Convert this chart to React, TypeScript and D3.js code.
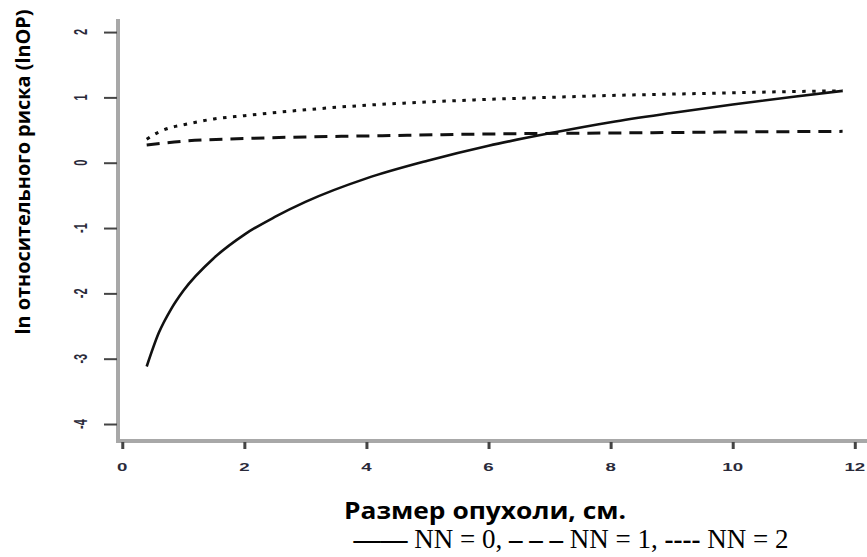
import { useEffect, useRef } from 'react'
import * as d3 from 'd3'

// tumour size, cm
const sizeNN0 = [0.4, 0.6, 0.8, 1, 1.5, 2, 2.5, 3, 4, 5, 6, 7, 8, 9, 10, 11, 11.8]
const lnRiskNN0 = [-3.12, -2.6, -2.24, -1.96, -1.46, -1.1, -0.83, -0.6, -0.24, 0.03, 0.26, 0.45, 0.62, 0.76, 0.89, 1.01, 1.1]

const sizeNN1 = [0.4, 1, 2, 3, 4, 6, 8, 10, 11.8]
const lnRiskNN1 = [0.27, 0.33, 0.37, 0.395, 0.41, 0.44, 0.455, 0.47, 0.48]

const sizeNN2 = [0.4, 0.6, 0.8, 1, 1.5, 2, 3, 4, 5, 6, 7, 8, 9, 10, 11, 11.8]
const lnRiskNN2 = [0.36, 0.47, 0.54, 0.58, 0.67, 0.72, 0.81, 0.88, 0.93, 0.97, 1.0, 1.03, 1.05, 1.07, 1.09, 1.1]

const xTicks = [0, 2, 4, 6, 8, 10, 12]
const yTicks = [-4, -3, -2, -1, 0, 1, 2]

const yTitle = 'ln относительного риска (lnOP)'
const xTitle = 'Размер опухоли, см.'

export default function App() {
  const ref = useRef<SVGSVGElement>(null)

  useEffect(() => {
    if (!ref.current) return
    const width = 867
    const height = 557

    const svg = d3.select(ref.current)
    svg.selectAll('*').remove()

    const x = d3.scaleLinear().domain([-0.07, 12.2]).range([118, 867])
    const y = d3.scaleLinear().domain([-4.26, 2.2]).range([441, 19])

    // axis lines
    svg
      .append('line')
      .attr('x1', x(-0.07))
      .attr('x2', x(-0.07))
      .attr('y1', y(2.2))
      .attr('y2', y(-4.26))
      .attr('stroke', '#a8a8a8')
      .attr('stroke-width', 4)
    svg
      .append('line')
      .attr('x1', x(-0.07) - 2)
      .attr('x2', width)
      .attr('y1', y(-4.26))
      .attr('y2', y(-4.26))
      .attr('stroke', '#a8a8a8')
      .attr('stroke-width', 4)

    // y ticks
    const yAxis = svg
      .append('g')
      .attr('transform', `translate(${x(-0.07) - 1},0)`)
      .call(d3.axisLeft(y).tickValues(yTicks).tickSize(13).tickFormat(() => ''))
    yAxis.select('.domain').remove()
    yAxis.selectAll('line').attr('stroke', '#444').attr('stroke-width', 2)

    svg
      .append('g')
      .selectAll('text')
      .data(yTicks)
      .join('text')
      .attr('transform', (d) => `translate(81,${y(d)}) scale(1.6,1) rotate(-90)`)
      .attr('text-anchor', 'middle')
      .attr('dy', '0.35em')
      .attr('font-family', 'Liberation Sans, Arial, sans-serif')
      .attr('font-weight', 'bold')
      .attr('font-size', 11)
      .attr('fill', '#2a2a3a')
      .text((d) => d)

    // x ticks
    const xAxis = svg
      .append('g')
      .attr('transform', `translate(0,${y(-4.26) + 1})`)
      .call(d3.axisBottom(x).tickValues(xTicks).tickSize(7).tickFormat(() => ''))
    xAxis.select('.domain').remove()
    xAxis.selectAll('line').attr('stroke', '#444').attr('stroke-width', 3)

    svg
      .append('g')
      .selectAll('text')
      .data(xTicks)
      .join('text')
      .attr('transform', (d) => `translate(${x(d)},471) scale(1.7,1)`)
      .attr('text-anchor', 'middle')
      .attr('font-family', 'Liberation Sans, Arial, sans-serif')
      .attr('font-weight', 'bold')
      .attr('font-size', 11)
      .attr('fill', '#2a2a3a')
      .text((d) => d)

    const line = d3
      .line<[number, number]>()
      .x((d) => x(d[0]))
      .y((d) => y(d[1]))
      .curve(d3.curveMonotoneX)

    const series = [
      { xs: sizeNN0, ys: lnRiskNN0, dash: null, w: 2.6 },
      { xs: sizeNN1, ys: lnRiskNN1, dash: '13 8', w: 3 },
      { xs: sizeNN2, ys: lnRiskNN2, dash: '3.5 6.5', w: 3 },
    ]

    series.forEach((s) => {
      const pts = s.xs.map((v, i) => [v, s.ys[i]] as [number, number])
      svg
        .append('path')
        .datum(pts)
        .attr('fill', 'none')
        .attr('stroke', '#111')
        .attr('stroke-width', s.w)
        .attr('stroke-dasharray', s.dash)
        .attr('d', line)
    })

    // titles
    svg
      .append('text')
      .attr('transform', `translate(30,${172}) rotate(-90)`)
      .attr('text-anchor', 'middle')
      .attr('font-family', 'Open Sans, Liberation Sans, sans-serif')
      .attr('font-weight', 'bold')
      .attr('font-size', 20)
      .attr('textLength', 325)
      .attr('lengthAdjust', 'spacingAndGlyphs')
      .attr('fill', '#000')
      .text(yTitle)

    svg
      .append('text')
      .attr('x', 485)
      .attr('y', 519)
      .attr('text-anchor', 'middle')
      .attr('font-family', 'Open Sans, Liberation Sans, sans-serif')
      .attr('font-weight', 'bold')
      .attr('font-size', 23)
      .attr('textLength', 282)
      .attr('lengthAdjust', 'spacingAndGlyphs')
      .attr('fill', '#000')
      .text(xTitle)

    // legend, written as text like the source
    const legend = svg
      .append('text')
      .attr('x', 571)
      .attr('y', 548)
      .attr('text-anchor', 'middle')
      .attr('font-family', 'Liberation Serif, Times New Roman, serif')
      .attr('font-size', 27)
      .attr('fill', '#000')
    legend.append('tspan').attr('font-weight', 'bold').text('——')
    legend.append('tspan').text('  NN = 0, ')
    legend.append('tspan').attr('font-weight', 'bold').text('– – –')
    legend.append('tspan').text(' NN = 1, ')
    legend.append('tspan').attr('font-weight', 'bold').text('----')
    legend.append('tspan').text(' NN = 2')

    svg.attr('width', width).attr('height', height)
  }, [])

  return (
    <svg
      ref={ref}
      width={867}
      height={557}
      style={{ position: 'absolute', left: 0, top: 0, background: '#fff' }}
    />
  )
}
